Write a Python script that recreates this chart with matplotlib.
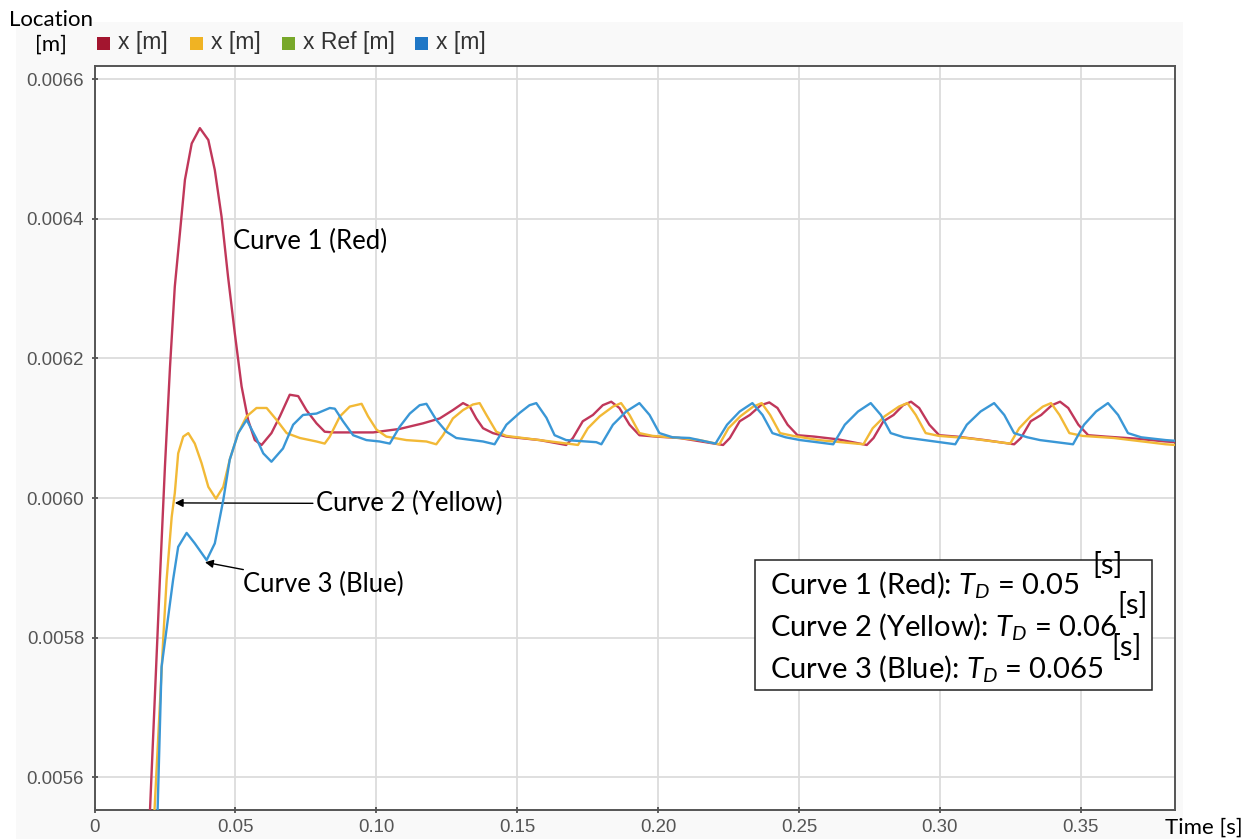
import matplotlib
matplotlib.use("Agg")
import matplotlib.pyplot as plt
from matplotlib.patches import Rectangle

# ---------------- data ----------------
red_t = [0.0180, 0.0197, 0.0232, 0.0250, 0.0268, 0.0285, 0.0303, 0.0321, 0.0345, 0.0374,
         0.0404, 0.0427, 0.0451, 0.0474, 0.0498, 0.0522, 0.0545, 0.0569, 0.0593, 0.0628,
         0.0658, 0.0693, 0.0723, 0.0752, 0.0788, 0.0817, 0.0847, 0.0989, 0.1083, 0.1166,
         0.1225, 0.1272, 0.1308, 0.1332, 0.1355, 0.1379, 0.1414, 0.1462, 0.1580, 0.1674,
         0.1698, 0.1733, 0.1769, 0.1804, 0.1834, 0.1863, 0.1899, 0.1934, 0.1994, 0.2076,
         0.2231, 0.2255, 0.2290, 0.2326, 0.2365, 0.2395, 0.2424, 0.2460, 0.2495, 0.2555,
         0.2640, 0.2741, 0.2765, 0.2800, 0.2836, 0.2870, 0.2898, 0.2927, 0.2963, 0.2998,
         0.3060, 0.3160, 0.3264, 0.3288, 0.3323, 0.3360, 0.3398, 0.3427, 0.3456, 0.3492,
         0.3527, 0.3590, 0.3700, 0.3802, 0.3836]
red_x = [0.005300, 0.005553, 0.005883, 0.006045, 0.006188, 0.006303, 0.006379, 0.006456, 0.006508, 0.006530,
         0.006513, 0.006470, 0.006403, 0.006317, 0.006236, 0.006160, 0.006112, 0.006083, 0.006076, 0.006093,
         0.006117, 0.006148, 0.006146, 0.006126, 0.006107, 0.006095, 0.006094, 0.006094, 0.006099, 0.006107,
         0.006114, 0.006126, 0.006136, 0.006131, 0.006114, 0.006100, 0.006093, 0.006088, 0.006083, 0.006076,
         0.006086, 0.006110, 0.006119, 0.006133, 0.006138, 0.006129, 0.006105, 0.006090, 0.006088, 0.006086,
         0.006076, 0.006086, 0.006110, 0.006119, 0.006133, 0.006137, 0.006129, 0.006105, 0.006090, 0.006088,
         0.006084, 0.006076, 0.006086, 0.006110, 0.006119, 0.006133, 0.006138, 0.006129, 0.006105, 0.006090,
         0.006088, 0.006083, 0.006077, 0.006086, 0.006110, 0.006119, 0.006133, 0.006138, 0.006129, 0.006105,
         0.006090, 0.006088, 0.006085, 0.006081, 0.006080]

yellow_t = [0.0195, 0.0213, 0.0244, 0.0256, 0.0274, 0.0285, 0.0297, 0.0315, 0.0333, 0.0356,
            0.0380, 0.0404, 0.0431, 0.0457, 0.0480, 0.0510, 0.0540, 0.0575, 0.0611, 0.0646,
            0.0682, 0.0729, 0.0788, 0.0817, 0.0835, 0.0871, 0.0906, 0.0948, 0.0971, 0.1001,
            0.1036, 0.1107, 0.1178, 0.1213, 0.1237, 0.1272, 0.1308, 0.1343, 0.1367, 0.1391,
            0.1426, 0.1462, 0.1580, 0.1698, 0.1716, 0.1751, 0.1793, 0.1840, 0.1869, 0.1899,
            0.1934, 0.1981, 0.2076, 0.2147, 0.2218, 0.2250, 0.2292, 0.2338, 0.2368, 0.2398,
            0.2433, 0.2480, 0.2571, 0.2729, 0.2762, 0.2804, 0.2855, 0.2885, 0.2915, 0.2950,
            0.2997, 0.3094, 0.3250, 0.3282, 0.3322, 0.3366, 0.3395, 0.3425, 0.3460, 0.3507,
            0.3618, 0.3802, 0.3836]
yellow_x = [0.005300, 0.005553, 0.005799, 0.005883, 0.005973, 0.006007, 0.006064, 0.006088, 0.006093, 0.006078,
            0.006050, 0.006016, 0.005999, 0.006016, 0.006055, 0.006093, 0.006117, 0.006129, 0.006129, 0.006112,
            0.006093, 0.006086, 0.006081, 0.006078, 0.006088, 0.006117, 0.006131, 0.006135, 0.006117, 0.006098,
            0.006088, 0.006083, 0.006081, 0.006077, 0.006090, 0.006114, 0.006126, 0.006134, 0.006136, 0.006119,
            0.006095, 0.006089, 0.006083, 0.006077, 0.006076, 0.006100, 0.006117, 0.006131, 0.006136, 0.006119,
            0.006093, 0.006089, 0.006086, 0.006083, 0.006077, 0.006100, 0.006117, 0.006131, 0.006136, 0.006119,
            0.006093, 0.006089, 0.006083, 0.006077, 0.006100, 0.006117, 0.006131, 0.006136, 0.006119, 0.006093,
            0.006089, 0.006086, 0.006078, 0.006100, 0.006117, 0.006131, 0.006136, 0.006119, 0.006093, 0.006089,
            0.006086, 0.006077, 0.006076]

blue_t = [0.0205, 0.0224, 0.0238, 0.0279, 0.0297, 0.0327, 0.0356, 0.0398, 0.0427, 0.0457,
          0.0480, 0.0510, 0.0540, 0.0575, 0.0599, 0.0628, 0.0669, 0.0705, 0.0740, 0.0788,
          0.0835, 0.0853, 0.0882, 0.0918, 0.0965, 0.1012, 0.1048, 0.1083, 0.1119, 0.1154,
          0.1178, 0.1213, 0.1249, 0.1284, 0.1379, 0.1420, 0.1462, 0.1509, 0.1544, 0.1568,
          0.1604, 0.1633, 0.1674, 0.1781, 0.1799, 0.1840, 0.1887, 0.1934, 0.1970, 0.2005,
          0.2052, 0.2112, 0.2204, 0.2245, 0.2290, 0.2335, 0.2371, 0.2406, 0.2453, 0.2505,
          0.2622, 0.2663, 0.2710, 0.2755, 0.2791, 0.2826, 0.2873, 0.2964, 0.3055, 0.3096,
          0.3145, 0.3193, 0.3229, 0.3264, 0.3311, 0.3356, 0.3473, 0.3512, 0.3555, 0.3597,
          0.3633, 0.3668, 0.3715, 0.3802, 0.3836]
blue_x = [0.005300, 0.005553, 0.005758, 0.005883, 0.005930, 0.005950, 0.005935, 0.005911, 0.005935, 0.005997,
          0.006055, 0.006093, 0.006112, 0.006085, 0.006064, 0.006052, 0.006071, 0.006105, 0.006119, 0.006121,
          0.006129, 0.006128, 0.006110, 0.006090, 0.006083, 0.006081, 0.006078, 0.006102, 0.006121, 0.006133,
          0.006135, 0.006112, 0.006095, 0.006086, 0.006081, 0.006077, 0.006105, 0.006122, 0.006133, 0.006136,
          0.006115, 0.006090, 0.006083, 0.006080, 0.006077, 0.006105, 0.006124, 0.006136, 0.006119, 0.006093,
          0.006087, 0.006086, 0.006078, 0.006105, 0.006124, 0.006136, 0.006119, 0.006093, 0.006087, 0.006083,
          0.006077, 0.006105, 0.006124, 0.006136, 0.006119, 0.006093, 0.006087, 0.006082, 0.006077, 0.006105,
          0.006124, 0.006136, 0.006119, 0.006093, 0.006087, 0.006083, 0.006077, 0.006105, 0.006124, 0.006136,
          0.006119, 0.006093, 0.006087, 0.006083, 0.006082]

legend_labels = ["x [m]", "x [m]", "x Ref [m]", "x [m]"]
legend_colors = ["#a3152f", "#f0b323", "#78a82a", "#1f77c6"]

x_ticks = [0, 0.05, 0.10, 0.15, 0.20, 0.25, 0.30, 0.35]
x_ticklabels = ["0", "0.05", "0.10", "0.15", "0.20", "0.25", "0.30", "0.35"]
y_ticks = [0.0056, 0.0058, 0.0060, 0.0062, 0.0064, 0.0066]
y_ticklabels = ["0.0056", "0.0058", "0.0060", "0.0062", "0.0064", "0.0066"]

box_lines = [r"Curve 1 (Red): $T_D$ = 0.05",
             r"Curve 2 (Yellow): $T_D$ = 0.06",
             r"Curve 3 (Blue): $T_D$ = 0.065"]

# ---------------- style ----------------
plt.rcParams['mathtext.fontset'] = 'custom'
plt.rcParams['mathtext.rm'] = 'Lato'
plt.rcParams['mathtext.it'] = 'Lato:italic'

W, H = 1256, 839
fig = plt.figure(figsize=(W / 100, H / 100), dpi=100)
fig.patch.set_facecolor("white")

def fx(px):
    return px / W

def fy(py):
    return 1 - py / H

# light-gray chart panel
fig.patches.append(Rectangle((fx(16), 0), fx(1183) - fx(16), fy(22), transform=fig.transFigure,
                             facecolor="#f9f9f9", edgecolor="none", zorder=-10))

ax = fig.add_axes([fx(94.5), fy(810), fx(1175.3) - fx(94.5), fy(66) - fy(810)])
ax.set_facecolor("white")

line_w = 1.7
ax.plot(red_t, red_x, color="#c0375a", lw=line_w, zorder=3, solid_joinstyle="round")
ax.plot(yellow_t, yellow_x, color="#f2b936", lw=line_w, zorder=3, solid_joinstyle="round")
ax.plot(blue_t, blue_x, color="#3a97d6", lw=line_w, zorder=4, solid_joinstyle="round")

ax.set_xlim(0, 0.3836)
ax.set_ylim(0.005553, 0.006619)
ax.set_xticks(x_ticks)
ax.set_xticklabels(x_ticklabels)
ax.set_yticks(y_ticks)
ax.set_yticklabels(y_ticklabels)
ax.grid(True, color="#dcdcdc", lw=1.3)
ax.set_axisbelow(True)
for s in ax.spines.values():
    s.set_color("#555555")
    s.set_linewidth(1.4)
ax.tick_params(direction="inout", length=5, width=1.2, color="#444444",
               labelcolor="#555555", labelsize=13.4)
ax.tick_params(axis="x", pad=4)
ax.tick_params(axis="y", pad=5)
for lab in ax.get_xticklabels() + ax.get_yticklabels():
    lab.set_fontfamily("Liberation Sans")

# axis titles
fig.text(fx(51), fy(20), "Location", ha="center", va="center", fontsize=16, family="Lato")
fig.text(fx(51), fy(45), "[m]", ha="center", va="center", fontsize=16, family="Lato")
fig.text(fx(1204), fy(828), "Time [s]", ha="center", va="center", fontsize=16, family="Lato")

# header legend
leg_x = [97, 190, 282, 415]
for px, lab, col in zip(leg_x, legend_labels, legend_colors):
    fig.patches.append(Rectangle((fx(px), fy(50)), fx(13), 13 / H, transform=fig.transFigure,
                                 facecolor=col, edgecolor="none"))
    fig.text(fx(px + 21), fy(43), lab, ha="left", va="center", fontsize=16.5,
             family="Liberation Sans", color="#333333")

# annotations
ann_kw = dict(fontsize=18.5, family="Lato", color="black")
ax.text(0.0491, 0.006368, "Curve 1 (Red)", ha="left", va="center", **ann_kw)
ax.annotate("Curve 2 (Yellow)", xy=(0.0285, 0.005993), xytext=(0.0785, 0.005992),
            ha="left", va="center",
            arrowprops=dict(arrowstyle="-|>", color="black", lw=1, mutation_scale=12,
                            shrinkA=0, shrinkB=0), **ann_kw)
ax.annotate("Curve 3 (Blue)", xy=(0.0392, 0.005908), xytext=(0.0527, 0.0058755),
            ha="left", va="center",
            arrowprops=dict(arrowstyle="-|>", color="black", lw=1, mutation_scale=12,
                            shrinkA=0, shrinkB=0), **ann_kw)

# parameter box
fig.patches.append(Rectangle((fx(755), fy(690)), fx(1152) - fx(755), (690 - 560) / H,
                             transform=fig.transFigure, facecolor="white",
                             edgecolor="#222222", lw=1.1, zorder=5))
box_y = [584, 627, 668]
for py, txt in zip(box_y, box_lines):
    fig.text(fx(770), fy(py), txt, ha="left", va="center", fontsize=21,
             family="Lato", zorder=6)
s_pos = [(1108, 566), (1133, 606), (1127, 647)]
for px, py in s_pos:
    fig.text(fx(px), fy(py), "[s]", ha="center", va="center", fontsize=21,
             family="Lato", zorder=6)

fig.savefig("out.png", dpi=100)
